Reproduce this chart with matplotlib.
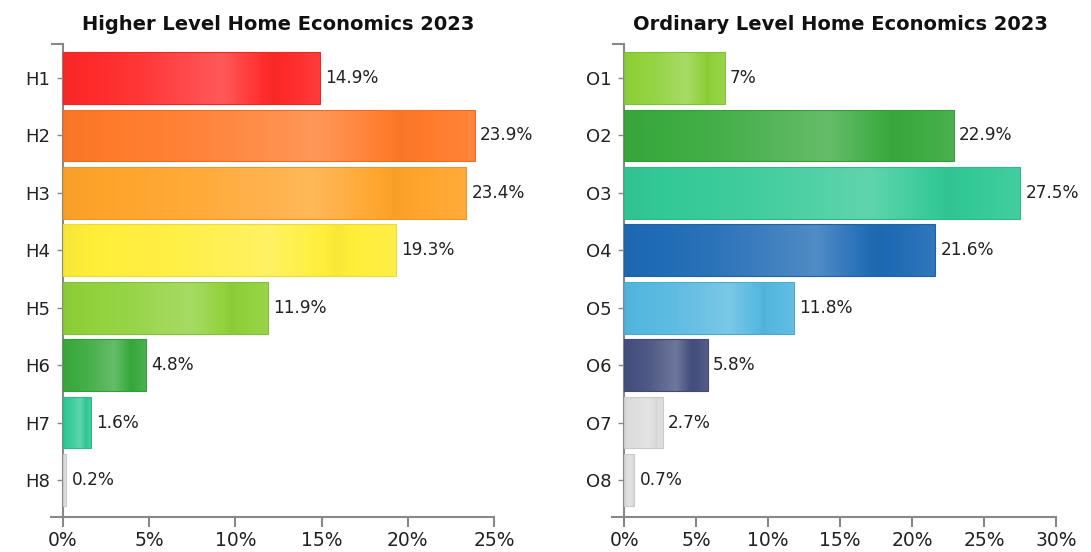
import numpy as np
import matplotlib
matplotlib.use("Agg")
import matplotlib.pyplot as plt
from matplotlib.colors import to_rgb
from matplotlib.ticker import FuncFormatter

# data
higher_grades = ["H1", "H2", "H3", "H4", "H5", "H6", "H7", "H8"]
higher_values = [14.9, 23.9, 23.4, 19.3, 11.9, 4.8, 1.6, 0.2]
higher_colors = ["#ff2a2a", "#ff7a2a", "#ffa42a", "#ffee38", "#8fd13a",
                 "#3aaa3f", "#33c996", "#dcdcdc"]

ordinary_grades = ["O1", "O2", "O3", "O4", "O5", "O6", "O7", "O8"]
ordinary_values = [7.0, 22.9, 27.5, 21.6, 11.8, 5.8, 2.7, 0.7]
ordinary_colors = ["#8fd13a", "#3aaa3f", "#33c996", "#1f6bb5", "#55b8e0",
                   "#45507f", "#dcdcdc", "#dcdcdc"]

axis_grey = "#888888"
text_col = "#222222"


def shaded_bar(ax, y, value, color, height=0.9):
    # glossy horizontal gradient drawn inside the bar
    base = np.array(to_rgb(color))
    f = np.linspace(0, 1, 200)
    mix = np.interp(f, [0, 0.3, 0.62, 0.82, 1.0], [-0.03, 0.06, 0.22, -0.03, 0.08])
    rgb = np.empty((1, len(f), 3))
    for i, m in enumerate(mix):
        if m >= 0:
            rgb[0, i] = base + (1 - base) * m
        else:
            rgb[0, i] = base * (1 + m)
    bar = ax.barh(y, value, height=height, color="none",
                  edgecolor=np.clip(base * 0.92, 0, 1), linewidth=0.8, zorder=3)[0]
    im = ax.imshow(rgb, extent=(0, value, y + height / 2, y - height / 2),
                   aspect="auto", zorder=2, interpolation="bilinear")
    im.set_clip_path(bar)


def draw_panel(ax, title, grades, values, colors, xmax):
    pad = xmax * 0.028
    ax.set_xlim(-pad, xmax)
    ax.set_ylim(7.644, -0.592)
    pos = np.arange(len(grades))
    for p, v, c in zip(pos, values, colors):
        shaded_bar(ax, p, v, c)
        ax.text(v + xmax * 0.012, p, f"{v:g}%", va="center", ha="left",
                fontsize=12.2, color=text_col)

    for s in ["top", "right"]:
        ax.spines[s].set_visible(False)
    ax.spines["left"].set_position(("data", 0))
    for s in ["left", "bottom"]:
        ax.spines[s].set_color(axis_grey)
        ax.spines[s].set_linewidth(1.5)

    ax.set_yticks(pos)
    ax.set_yticklabels(grades)
    ax.set_yticks([-0.592], minor=True)
    ax.tick_params(axis="y", which="minor", length=8.6, width=1.5, color=axis_grey)
    ax.tick_params(axis="y", which="major", length=4.3, width=1, color=axis_grey,
                   labelsize=13, labelcolor=text_col, pad=5)

    ax.set_xticks(np.arange(0, xmax + 0.1, 5))
    ax.xaxis.set_major_formatter(FuncFormatter(lambda x, _: f"{x:g}%"))
    ax.tick_params(axis="x", length=7, width=1.5, color=axis_grey,
                   labelsize=13.5, labelcolor=text_col, pad=3)

    xfrac = (pad + xmax / 2) / (xmax + pad)
    ax.set_title(title, fontsize=14, fontweight="bold", color="#111111",
                 x=xfrac, pad=10)


fig = plt.figure(figsize=(10.91, 5.52), dpi=100)
ax1 = fig.add_axes([0.0467, 0.0634, 0.4061, 0.8569])
ax2 = fig.add_axes([0.5610, 0.0634, 0.4070, 0.8569])

draw_panel(ax1, "Higher Level Home Economics 2023", higher_grades,
           higher_values, higher_colors, 25)
draw_panel(ax2, "Ordinary Level Home Economics 2023", ordinary_grades,
           ordinary_values, ordinary_colors, 30)

fig.savefig("out.png", dpi=100)
